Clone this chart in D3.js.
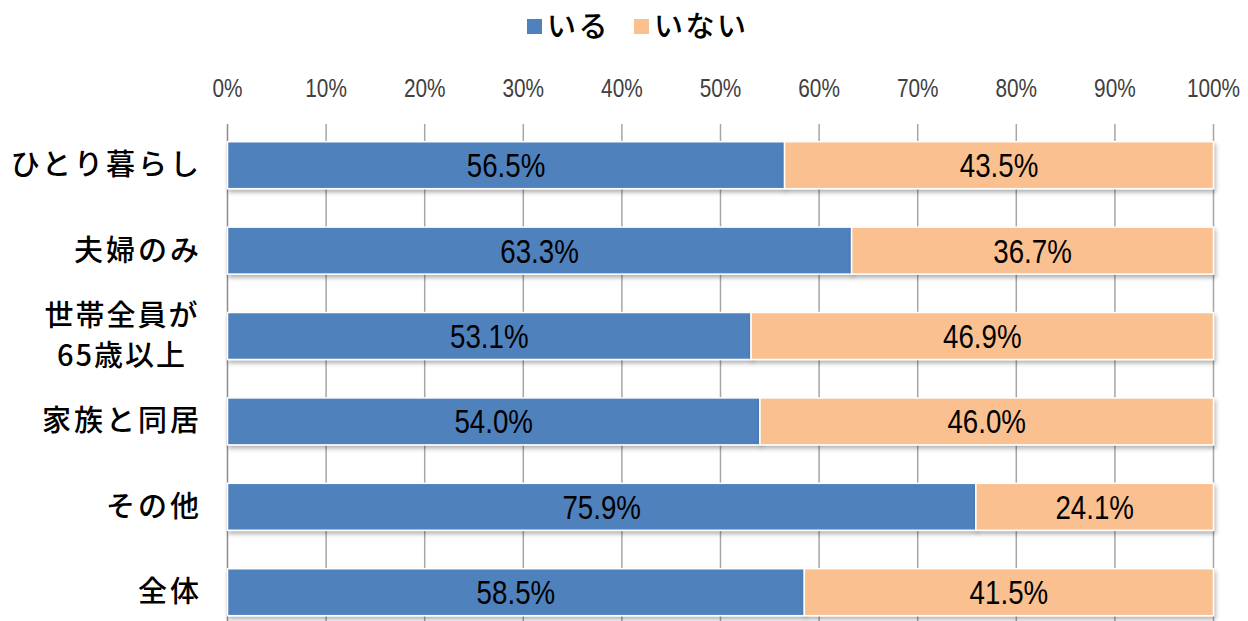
<!DOCTYPE html>
<html><head><meta charset="utf-8">
<script src="https://cdn.jsdelivr.net/npm/d3@7/dist/d3.min.js"></script>
<style>
body{margin:0;background:#fff;}
svg{display:block;}
</style></head>
<body>
<svg id="c" width="1248" height="621"></svg>
<script>
const categories = [["ひとり暮らし"],["夫婦のみ"],["世帯全員が","65歳以上"],["家族と同居"],["その他"],["全体"]];
const iru = [56.5, 63.3, 53.1, 54.0, 75.9, 58.5];
const inai = [43.5, 36.7, 46.9, 46.0, 24.1, 41.5];
const seriesNames = ["いる","いない"];
const colors = ["#4F81BD","#FAC090"];
const tickValues = [0,10,20,30,40,50,60,70,80,90,100];

const svg = d3.select("#c");
const defs = svg.append("defs");
const f = defs.append("filter").attr("id","sh").attr("x","-5%").attr("y","-20%").attr("width","110%").attr("height","150%");
f.append("feDropShadow").attr("dx",1.5).attr("dy",3).attr("stdDeviation",2).attr("flood-color","#000").attr("flood-opacity",0.3);

const numFont = "'Liberation Sans',Arial,sans-serif";
const jpFont = "'Noto Sans CJK JP','Noto Sans CJK SC',sans-serif";

const x = d3.scaleLinear().domain([0,100]).range([227.5,1213.5]);
const y = d3.scaleBand().domain(d3.range(categories.length)).range([122.5, 122.5+6*85.4]).paddingInner(0.45).paddingOuter(0.225);

// gridlines
svg.append("g").selectAll("line").data(tickValues.slice(1)).join("line")
  .attr("x1",d=>x(d)).attr("x2",d=>x(d)).attr("y1",124).attr("y2",621)
  .attr("stroke","#A6A6A6").attr("stroke-width",1.5);
// axis line
svg.append("line").attr("x1",x(0)).attr("x2",x(0)).attr("y1",124).attr("y2",621)
  .attr("stroke","#8C8C8C").attr("stroke-width",1.5);

// tick labels (condensed)
svg.append("g").selectAll("text").data(tickValues).join("text")
  .attr("transform",d=>`translate(${x(d)},97) scale(0.8,1)`).attr("text-anchor","middle")
  .attr("font-family",numFont).attr("font-size",26).attr("fill","#404040")
  .text(d=>d+"%");

// bars
const stack = categories.map((c,i)=>[{s:0,x0:0,x1:iru[i],v:iru[i]},{s:1,x0:iru[i],x1:iru[i]+inai[i],v:inai[i]}]);
const rows = svg.append("g").selectAll("g").data(stack).join("g");
rows.each(function(d,i){
  const g = d3.select(this);
  g.selectAll("rect").data(d).join("rect")
    .attr("x",e=>x(e.x0)).attr("width",e=>x(e.x1)-x(e.x0))
    .attr("y",y(i)).attr("height",y.bandwidth())
    .attr("fill",e=>colors[e.s]).attr("stroke","#fff").attr("stroke-width",1.5)
    .attr("filter","url(#sh)");
  g.selectAll("text").data(d).join("text")
    .attr("transform",e=>`translate(${x((e.x0+e.x1)/2)},${y(i)+y.bandwidth()/2+12}) scale(0.84,1)`)
    .attr("text-anchor","middle").attr("font-family",numFont).attr("font-size",33).attr("fill","#000")
    .text(e=>e.v.toFixed(1)+"%");
});

// category labels
categories.forEach((lines,i)=>{
  const cy = y(i)+y.bandwidth()/2;
  if(lines.length===1){
    svg.append("text").attr("x",202).attr("y",cy+10).attr("text-anchor","end")
      .attr("font-family",jpFont).attr("font-size",29).attr("font-weight",500).attr("letter-spacing",3).attr("fill","#000").text(lines[0]);
  } else {
    lines.forEach((t,k)=>{
      svg.append("text").attr("x",122).attr("y",cy+10+(k===0?-20:20)).attr("text-anchor","middle")
        .attr("font-family",jpFont).attr("font-size",29).attr("font-weight",500).attr("letter-spacing",2).attr("fill","#000").text(t);
    });
  }
});

// legend
const leg = [{x:527,tx:547},{x:634,tx:654}];
seriesNames.forEach((n,i)=>{
  svg.append("rect").attr("x",leg[i].x).attr("y",19).attr("width",15).attr("height",15).attr("fill",colors[i]);
  svg.append("text").attr("x",leg[i].tx).attr("y",37).attr("font-family",jpFont).attr("font-size",29).attr("font-weight",500).attr("letter-spacing",2.5).attr("fill","#000").text(n);
});
</script>
</body></html>
